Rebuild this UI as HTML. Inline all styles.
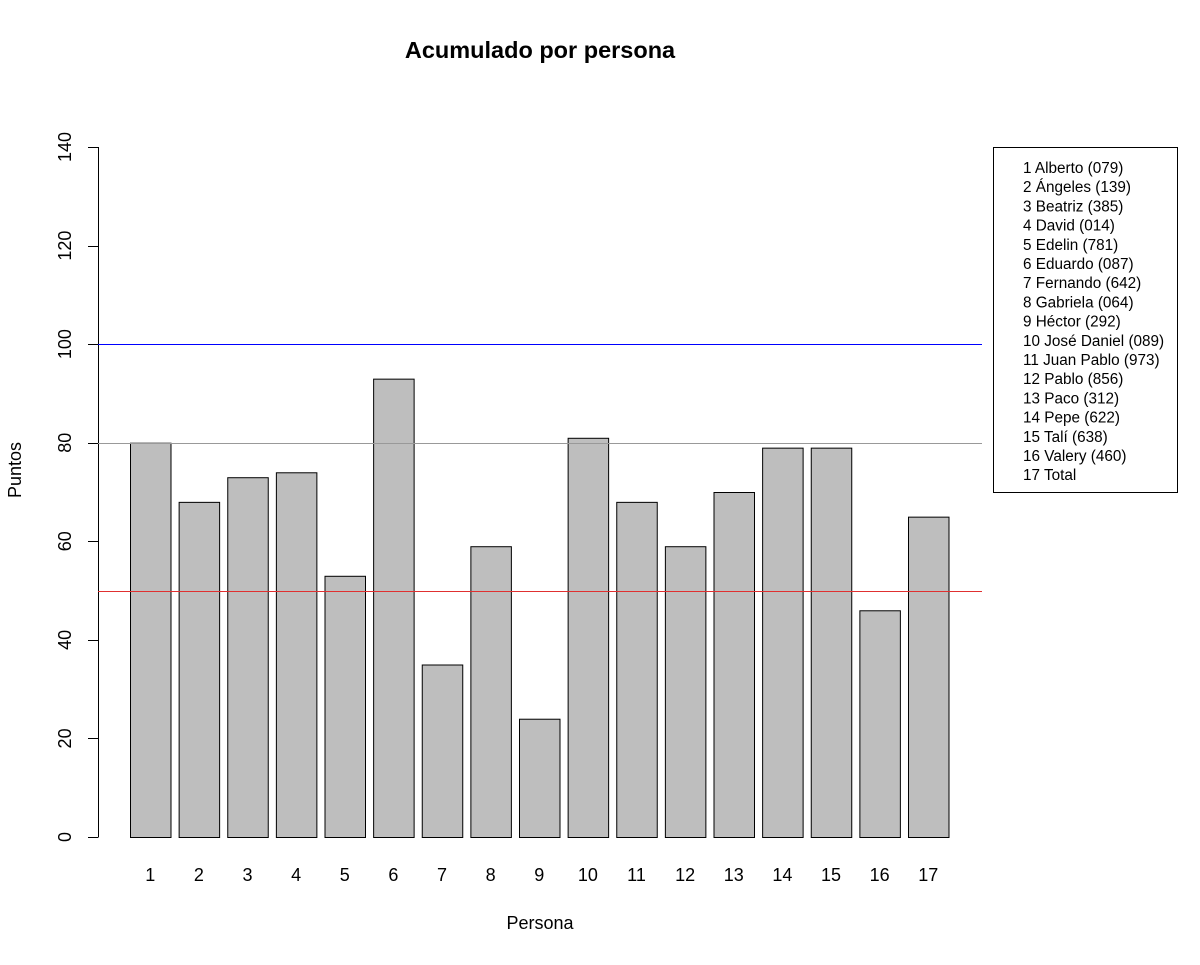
<!DOCTYPE html>
<html><head><meta charset="utf-8"><style>
body{margin:0;background:#fff}
svg text{font-family:"Liberation Sans",sans-serif}
</style></head><body>
<svg id="chart" width="1200" height="960">
<text x="540" y="58" text-anchor="middle" font-size="23.5" font-weight="bold">Acumulado por persona</text>
<text x="540" y="929" text-anchor="middle" font-size="18">Persona</text>
<text transform="translate(21,470) rotate(-90)" text-anchor="middle" font-size="18">Puntos</text>
<g id="bars"></g><g id="yaxis"></g><g id="xlabels"></g><g id="refs"></g>
<g>
<rect x="993.5" y="147.5" width="184" height="345" fill="#fff" stroke="#000"/>
<g id="legend"></g></g>
</svg>
<script>
const categories=["1","2","3","4","5","6","7","8","9","10","11","12","13","14","15","16","17"];
const values=[80,68,73,74,53,93,35,59,24,81,68,59,70,79,79,46,65];
const yTicks=[0,20,40,60,80,100,120,140];
const refValues=[100,80,50];
const refColors=["#0000ff","#999999","#e03030"];
const legendLabels=["1 Alberto (079)","2 Ángeles (139)","3 Beatriz (385)","4 David (014)","5 Edelin (781)","6 Eduardo (087)","7 Fernando (642)","8 Gabriela (064)","9 Héctor (292)","10 José Daniel (089)","11 Juan Pablo (973)","12 Pablo (856)","13 Paco (312)","14 Pepe (622)","15 Talí (638)","16 Valery (460)","17 Total"];
const NS="http://www.w3.org/2000/svg";
const y=v=>837-v*690/140;
const step=48.625,bw=40.5;
const xl=i=>130+i*step;
function mk(t,a,p){const e=document.createElementNS(NS,t);for(const k in a)e.setAttribute(k,a[k]);p.appendChild(e);return e;}
const bars=document.getElementById('bars');
values.forEach((v,i)=>{const r=mk('rect',{x:xl(i)+0.5,y:y(v)+0.5,width:bw,height:y(0)-y(v),fill:'#bebebe',stroke:'#000','stroke-width':1},bars);

});
const xg=document.getElementById('xlabels');
categories.forEach((c,i)=>{const t=mk('text',{x:xl(i)+bw/2,y:881,'text-anchor':'middle','font-size':18},xg);t.textContent=c;

});
const ya=document.getElementById('yaxis');
mk('line',{x1:98.5,x2:98.5,y1:y(140),y2:y(0),stroke:'#000'},ya);
yTicks.forEach(v=>{mk('line',{x1:88,x2:98.5,y1:Math.round(y(v))+0.5,y2:Math.round(y(v))+0.5,stroke:'#000'},ya);
const t=mk('text',{transform:`translate(71,${y(v)}) rotate(-90)`,'text-anchor':'middle','font-size':18},ya);t.textContent=v;

});
const rg=document.getElementById('refs');
refValues.forEach((v,i)=>{const l=mk('line',{x1:98,x2:982,y1:Math.round(y(v))+0.5,y2:Math.round(y(v))+0.5,stroke:refColors[i],'stroke-width':1},rg);

});
const lg=document.getElementById('legend');
legendLabels.forEach((s,i)=>{const t=mk('text',{x:1023,y:173+i*19.2,'font-size':15.3},lg);t.textContent=s;

});
</script>
</body></html>
